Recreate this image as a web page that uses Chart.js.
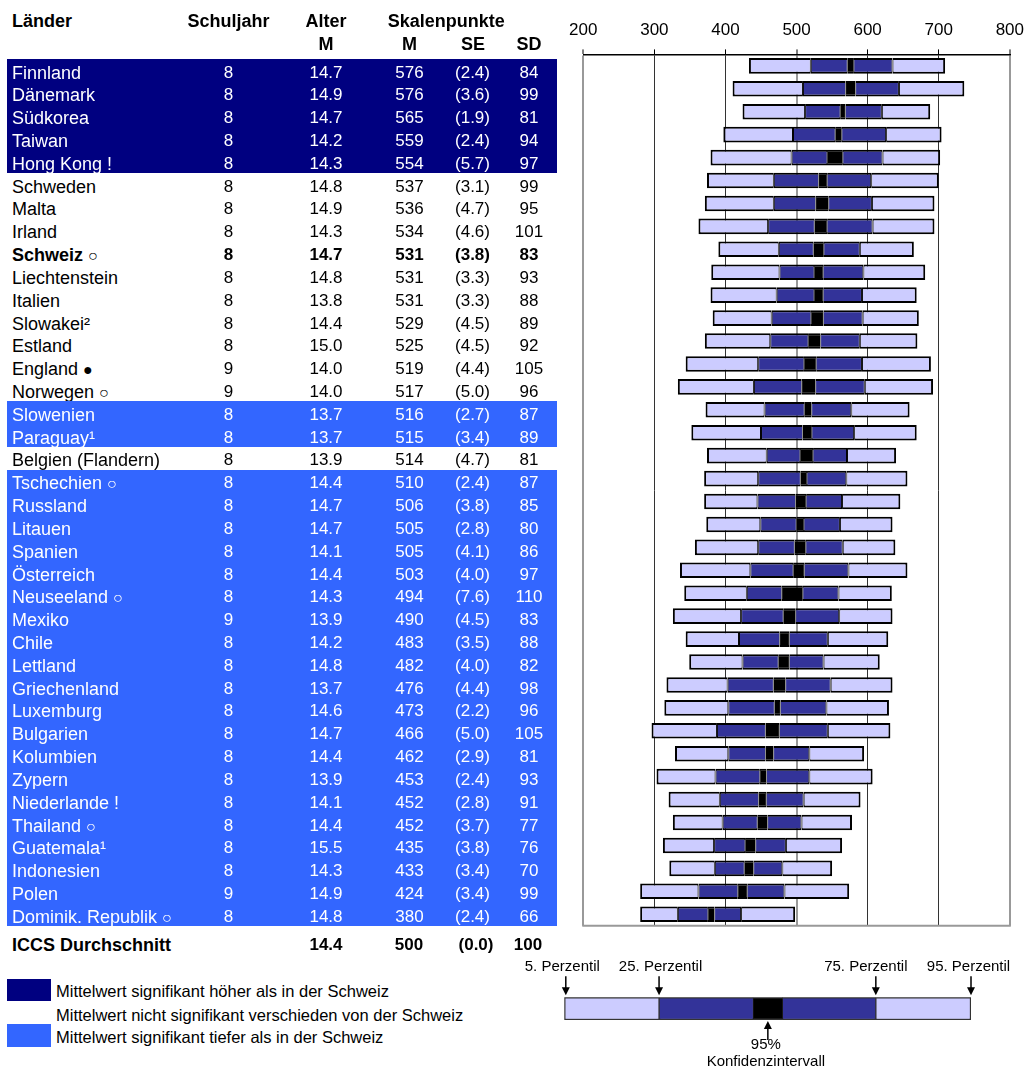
<!DOCTYPE html>
<html>
<head>
<meta charset="utf-8">
<script src="https://cdn.jsdelivr.net/npm/chart.js@4.4.1/dist/chart.umd.min.js"></script>
<style>
body{margin:0;background:#fff;font-family:"Liberation Sans",Arial,sans-serif;}
#page{position:relative;width:1033px;height:1069px;overflow:hidden;}
.t{position:absolute;white-space:nowrap;font-size:17px;color:#000;}
.n{font-size:18px;}
.h{font-size:18px;font-weight:bold;}
.b{font-weight:bold;}
.c{text-align:center;width:100px;}
.band{position:absolute;left:7px;width:550px;}
.mk{font-size:16px;}
.lg{position:absolute;left:56px;font-size:16.5px;line-height:22px;white-space:nowrap;}
.sw{position:absolute;left:7px;width:44px;}
</style>
</head>
<body>
<div id="page">
  <canvas id="bars" width="473" height="930" style="position:absolute;left:560px;top:0"></canvas>
  <canvas id="key" width="513" height="119" style="position:absolute;left:520px;top:950px"></canvas>
</div>
<script>
// Länder und Tabellenwerte
const countries = ["Finnland","Dänemark","Südkorea","Taiwan","Hong Kong !","Schweden","Malta","Irland","Schweiz","Liechtenstein",
  "Italien","Slowakei²","Estland","England","Norwegen","Slowenien","Paraguay¹","Belgien (Flandern)","Tschechien","Russland",
  "Litauen","Spanien","Österreich","Neuseeland","Mexiko","Chile","Lettland","Griechenland","Luxemburg","Bulgarien",
  "Kolumbien","Zypern","Niederlande !","Thailand","Guatemala¹","Indonesien","Polen","Dominik. Republik"];
const marks = ["","","","","","","","","○","","","","","●","○","","","","○","","","","","○","","","","","","","","","","○","","","","○"];
const grade = [8,8,8,8,8,8,8,8,8,8,8,8,8,9,9,8,8,8,8,8,8,8,8,8,9,8,8,8,8,8,8,8,8,8,8,8,9,8];
const age = ["14.7","14.9","14.7","14.2","14.3","14.8","14.9","14.3","14.7","14.8","13.8","14.4","15.0","14.0","14.0","13.7","13.7","13.9","14.4","14.7",
  "14.7","14.1","14.4","14.3","13.9","14.2","14.8","13.7","14.6","14.7","14.4","13.9","14.1","14.4","15.5","14.3","14.9","14.8"];
const mean = [576,576,565,559,554,537,536,534,531,531,531,529,525,519,517,516,515,514,510,506,505,505,503,494,490,483,482,476,473,466,462,453,452,452,435,433,424,380];
const se = [2.4,3.6,1.9,2.4,5.7,3.1,4.7,4.6,3.8,3.3,3.3,4.5,4.5,4.4,5.0,2.7,3.4,4.7,2.4,3.8,2.8,4.1,4.0,7.6,4.5,3.5,4.0,4.4,2.2,5.0,2.9,2.4,2.8,3.7,3.8,3.4,3.4,2.4];
const sd = [84,99,81,94,97,99,95,101,83,93,88,89,92,105,96,87,89,81,87,85,80,86,97,110,83,88,82,98,96,105,81,93,91,77,76,70,99,66];
// h = höher, n = nicht verschieden, t = tiefer als die Schweiz
const signif = ["h","h","h","h","h","n","n","n","n","n","n","n","n","n","n","t","t","n","t","t","t","t","t","t","t","t","t","t","t","t","t","t","t","t","t","t","t","t"];

// Perzentile
const p5  = [433,410,424,397,379,374,371,362,390,380,379,382,371,344,333,372,352,374,370,370,373,357,336,342,326,344,349,317,314,296,329,303,320,326,312,321,280,280];
const p25 = [520,509,512,495,493,468,468,460,475,476,472,465,463,446,440,455,450,458,446,445,449,446,435,430,422,419,424,403,404,388,404,386,392,396,384,385,362,333];
const p75 = [635,644,620,626,621,605,606,607,589,594,592,593,589,592,596,577,581,571,570,564,561,565,573,559,560,544,538,548,542,544,518,518,510,507,485,480,483,422];
const p95 = [709,736,688,704,702,700,694,694,665,681,669,672,670,689,692,659,669,640,656,646,635,639,656,634,635,629,617,635,630,632,595,607,590,578,564,550,574,498];

const iccsRow = ["ICCS Durchschnitt","","14.4","500","(0.0)","100"];
const xTicks = [200,300,400,500,600,700,800];

const keyValues = [0, 23.3, 46.4, 53.7, 76.6, 100]; // 5., 25., KI unten, KI oben, 75., 95.
const keyLabels = ["5. Perzentil","25. Perzentil","75. Perzentil","95. Perzentil"];

const FONT = '"Liberation Sans", Arial, sans-serif';
const page = document.getElementById('page');
function txt(s, x, y, h, cls, color, center) {
  const d = document.createElement('div');
  d.className = 't ' + (cls || '') + (center ? ' c' : '');
  d.style.left = (center ? x - 50 : x) + 'px';
  d.style.top = y + 'px';
  d.style.height = h + 'px';
  d.style.lineHeight = h + 'px';
  if (color) d.style.color = color;
  d.innerHTML = s;
  page.appendChild(d);
}

// Kopfzeilen
txt("Länder", 12, 10, 22, 'h');
txt("Schuljahr", 228.5, 10, 22, 'h', null, true);
txt("Alter", 326, 10, 22, 'h', null, true);
txt("Skalenpunkte", 437.8, 10, 22, 'h', null, true);
txt("M", 326, 33, 22, 'h', null, true);
txt("M", 409.5, 33, 22, 'h', null, true);
txt("SE", 473, 33, 22, 'h', null, true);
txt("SD", 529, 33, 22, 'h', null, true);

const rowTop = 59, rowH = 22.82;
const colX = [228.5, 326, 409.5, 472.5, 529];
countries.forEach((name, i) => {
  const y = rowTop + i * rowH;
  let color = null;
  if (signif[i] !== 'n') {
    const b = document.createElement('div');
    b.className = 'band';
    b.style.top = y + 'px';
    b.style.height = (rowH + 0.3) + 'px';
    b.style.background = signif[i] === 'h' ? '#000080' : '#3366ff';
    page.appendChild(b);
    color = '#fff';
  }
  const bold = name === 'Schweiz' ? 'b' : '';
  const label = name + (marks[i] ? ' <span class="mk">' + marks[i] + '</span>' : '');
  txt(label, 12, y + 2.5, rowH, 'n ' + bold, color);
  const cells = [grade[i], age[i], mean[i], '(' + se[i].toFixed(1) + ')', sd[i]];
  cells.forEach((v, k) => txt(String(v), colX[k], y + 2.5, rowH, bold, color, true));
});
txt(iccsRow[0], 12, 934, 22, 'h');
txt(iccsRow[2], 326, 934, 22, 'b', null, true);
txt(iccsRow[3], 409, 934, 22, 'b', null, true);
txt(iccsRow[4], 476, 934, 22, 'b', null, true);
txt(iccsRow[5], 528, 934, 22, 'b', null, true);

// Legende
function sw(top, h, col) {
  const d = document.createElement('div');
  d.className = 'sw'; d.style.top = top + 'px'; d.style.height = h + 'px'; d.style.background = col;
  page.appendChild(d);
}
function lg(s, cy) {
  const d = document.createElement('div');
  d.className = 'lg'; d.style.top = (cy - 11) + 'px'; d.textContent = s;
  page.appendChild(d);
}
sw(979, 22, '#000080');
sw(1024, 22.7, '#3366ff');
lg("Mittelwert signifikant höher als in der Schweiz", 991);
lg("Mittelwert nicht signifikant verschieden von der Schweiz", 1015);
lg("Mittelwert signifikant tiefer als in der Schweiz", 1037);

// Balken
const ciLo = mean.map((m, i) => m - 1.96 * se[i]);
const ciHi = mean.map((m, i) => m + 1.96 * se[i]);
const seg = (a, b) => a.map((v, i) => [v, b[i]]);
const LIGHT = '#ccccff', DARK = '#333399', EDGE = '#000';

function segDatasets(a, b, c, d, e, f, outer) {
  return [
    { data: seg(a, b), backgroundColor: LIGHT, borderWidth: { top: outer, bottom: outer, left: outer, right: 1 } },
    { data: seg(b, c), backgroundColor: DARK, borderWidth: { top: outer, bottom: outer, left: 1, right: 0.5 } },
    { data: seg(c, d), backgroundColor: '#000', borderWidth: { top: outer, bottom: outer, left: 0.5, right: 0.5 } },
    { data: seg(d, e), backgroundColor: DARK, borderWidth: { top: outer, bottom: outer, left: 0.5, right: 1 } },
    { data: seg(e, f), backgroundColor: LIGHT, borderWidth: { top: outer, bottom: outer, left: 1, right: outer } }
  ];
}

const frameBottom = {
  id: 'frameBottom',
  afterDraw(chart) {
    const { ctx, chartArea: a } = chart;
    ctx.save();
    ctx.strokeStyle = '#999';
    ctx.lineWidth = 2;
    ctx.beginPath();
    ctx.moveTo(a.left - 1, a.bottom);
    ctx.lineTo(a.right + 1, a.bottom);
    ctx.stroke();
    ctx.restore();
  }
};

const greyLines = [200, 500, 800];
new Chart(document.getElementById('bars'), {
  type: 'bar',
  data: { labels: countries, datasets: segDatasets(p5, p25, ciLo, ciHi, p75, p95, 2) },
  options: {
    indexAxis: 'y',
    responsive: false,
    animation: false,
    layout: { padding: { left: 23.3, right: 16.3, top: 11, bottom: 4.3 } },
    datasets: { bar: { grouped: false, categoryPercentage: 1, barPercentage: 0.68, borderColor: EDGE, borderSkipped: false } },
    plugins: { legend: { display: false }, tooltip: { enabled: false } },
    scales: {
      x: {
        type: 'linear', position: 'top', min: 200, max: 800,
        afterBuildTicks: s => { s.ticks = xTicks.map(v => ({ value: v })); },
        ticks: { font: { size: 17, family: FONT }, color: '#000', padding: 9 },
        grid: {
          color: c => greyLines.includes(c.tick && c.tick.value) ? '#999' : '#333',
          lineWidth: c => greyLines.includes(c.tick && c.tick.value) ? 2 : 1,
          tickLength: 5, tickColor: '#000', tickWidth: 1
        },
        border: { color: '#000', width: 1.5 }
      },
      y: { display: false }
    }
  },
  plugins: [frameBottom]
});

// Lesehilfe unten
function arrow(ctx, x, y1, y2) {
  const dir = y2 > y1 ? 1 : -1;
  ctx.beginPath();
  ctx.moveTo(x, y1);
  ctx.lineTo(x, y2 - dir * 6);
  ctx.stroke();
  ctx.beginPath();
  ctx.moveTo(x - 4, y2 - dir * 8);
  ctx.lineTo(x + 4, y2 - dir * 8);
  ctx.lineTo(x, y2);
  ctx.closePath();
  ctx.fill();
}
const keyNotes = {
  id: 'keyNotes',
  afterDraw(chart) {
    const { ctx, chartArea: a } = chart;
    const xs = chart.scales.x;
    ctx.save();
    ctx.fillStyle = '#000';
    ctx.strokeStyle = '#000';
    ctx.lineWidth = 1.5;
    ctx.font = '15px ' + FONT;
    ctx.textAlign = 'center';
    ctx.textBaseline = 'middle';
    const idx = [0, 1, 4, 5];
    const shift = [-3.5, 1.5, -10, -2.5];
    idx.forEach((k, j) => {
      const x = xs.getPixelForValue(keyValues[k]) + (k === 0 ? 1.5 : 0);
      arrow(ctx, x, a.top - 21, a.top - 2);
      ctx.fillText(keyLabels[j], x + shift[j], 17);
    });
    const cx = xs.getPixelForValue((keyValues[2] + keyValues[3]) / 2);
    arrow(ctx, cx, a.bottom + 20, a.bottom + 1);
    ctx.fillText('95%', cx - 2, 95);
    ctx.fillText('Konfidenzintervall', cx - 2, 112);
    ctx.restore();
  }
};
const kv = keyValues.map(v => [v]);
new Chart(document.getElementById('key'), {
  type: 'bar',
  data: { labels: [''], datasets: segDatasets(kv[0], kv[1], kv[2], kv[3], kv[4], kv[5], 1.5) },
  options: {
    indexAxis: 'y',
    responsive: false,
    animation: false,
    layout: { padding: { left: 44.3, right: 62, top: 47.3, bottom: 49 } },
    datasets: { bar: { grouped: false, categoryPercentage: 1, barPercentage: 1, borderColor: '#333', borderSkipped: false } },
    plugins: { legend: { display: false }, tooltip: { enabled: false } },
    scales: {
      x: { type: 'linear', min: 0, max: 100, display: false },
      y: { display: false }
    }
  },
  plugins: [keyNotes]
});
</script>
</body>
</html>
